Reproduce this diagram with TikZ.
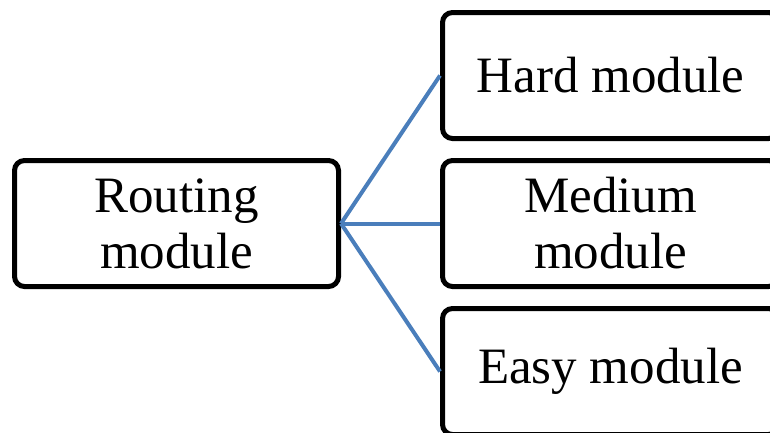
\documentclass[tikz,border=0pt]{standalone}
\usepackage{fontspec}
\setmainfont{Liberation Serif}
\usepackage{xcolor}
\usetikzlibrary{positioning}
\definecolor{linkblue}{RGB}{74,126,187}

\begin{document}
\begin{tikzpicture}[x=1pt,y=1pt,
    module/.style={draw,line width=5pt,rounded corners=10pt,align=center,
        font=\fontsize{51}{56}\selectfont,inner sep=0pt,
        minimum width=336pt,minimum height=126pt},
    link/.style={draw=linkblue,line width=4pt}]
        \path[use as bounding box] (0,0) rectangle (770,-432);
        \clip (0,0) rectangle (770,-432);
        \node (route) [module,minimum width=324pt] at (176.5,-223.5) {Routing\\module};
        \node (medium) [module,right = 99pt of route] {Medium\\module};
        \node (hard) [module,above = 17pt of medium] {Hard module};
        \node (easy) [module,below = 17pt of medium] {Easy module};
        % links from the router to each level
        \draw[link] (route.east) -- (hard.west);
        \draw[link] (route.east) -- (medium.west);
        \draw[link] (route.east) -- (easy.west);
    \end{tikzpicture}
\end{document}
